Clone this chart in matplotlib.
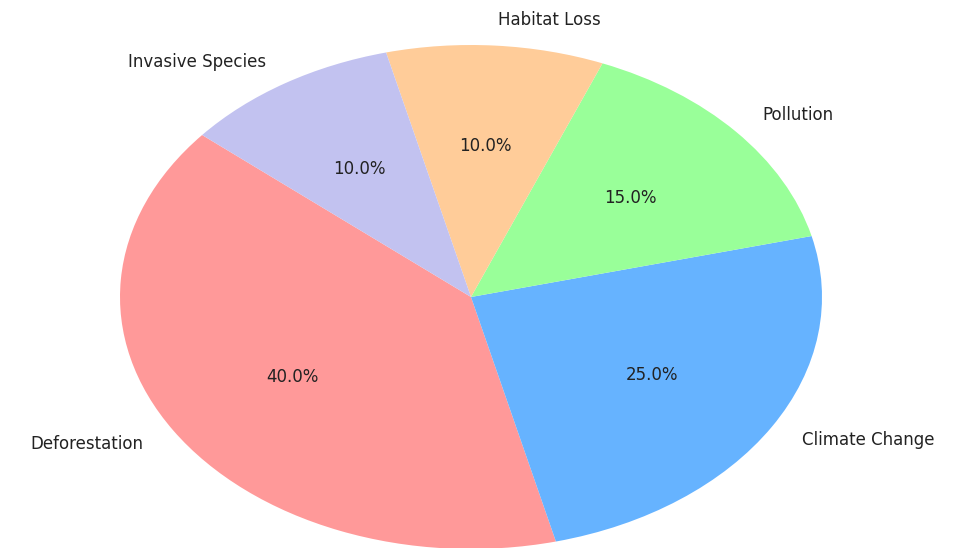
import matplotlib.pyplot as plt

causes = ['Deforestation', 'Climate Change', 'Pollution', 'Habitat Loss', 'Invasive Species']
shares = [40, 25, 15, 10, 10]
colors = ['#ff9999', '#66b3ff', '#99ff99', '#ffcc99', '#c2c2f0']

fig = plt.figure(figsize=(9.62, 5.48), dpi=100)
ax = fig.add_axes([0, 0, 1, 1])

ax.pie(shares, labels=causes, colors=colors, autopct='%1.1f%%', startangle=140,
       textprops={'fontsize': 12, 'color': '#222222'})

# stretch the pie wider than tall
ax.set_aspect('auto')
ax.set_xlim(-471 / 351, (962 - 471) / 351)
ax.set_ylim(-251 / 252, 297 / 252)
ax.axis('off')

fig.savefig('out.png', dpi=100)
